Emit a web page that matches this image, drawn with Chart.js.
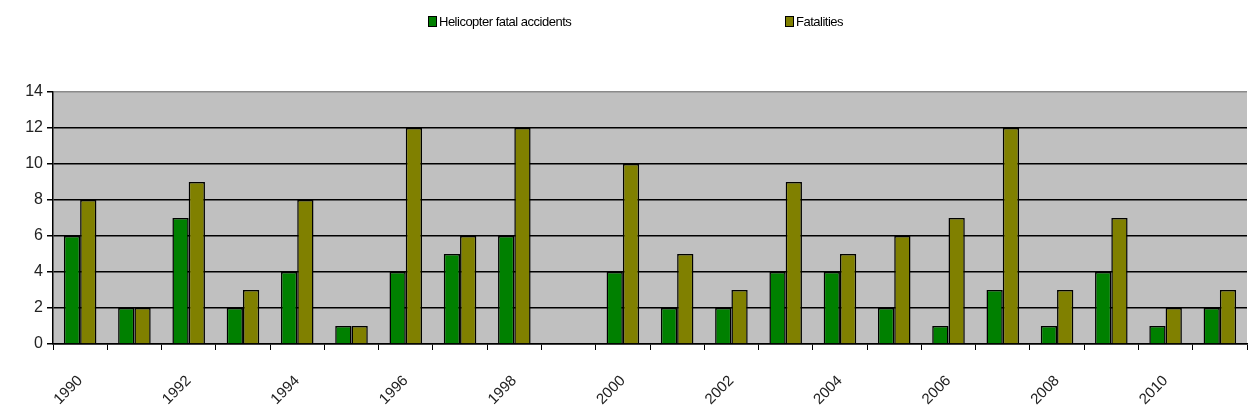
<!DOCTYPE html>
<html>
<head>
<meta charset="utf-8">
<script src="https://cdn.jsdelivr.net/npm/chart.js@4"></script>
<style>
  html, body { margin: 0; padding: 0; background: #fff; }
  #wrap { position: relative; width: 1250px; height: 419px; }
  #legend { position: absolute; top: 14px; left: 0; width: 1250px; font: 13px "Liberation Sans", Arial, sans-serif; color: #000; }
  .lg { position: absolute; display: flex; align-items: center; letter-spacing: -0.5px; }
  .lg i { display: inline-block; width: 7px; height: 9px; border: 1px solid #000; margin-right: 2px; }
</style>
</head>
<body>
<div id="wrap">
  <div id="legend"></div>
  <canvas id="chart" width="1250" height="419"></canvas>
</div>
<script>
// years on the x axis
const years = ['1990','1991','1992','1993','1994','1995','1996','1997','1998','1999','2000',
               '2001','2002','2003','2004','2005','2006','2007','2008','2009','2010','2011'];
// series values
const accidents  = [6, 2, 7, 2, 4, 1, 4, 5, 6, 0, 4, 2, 2, 4, 4, 2, 1, 3, 1, 4, 1, 2];
const fatalities = [8, 2, 9, 3, 8, 1, 12, 6, 12, 0, 10, 5, 3, 9, 5, 6, 7, 12, 3, 7, 2, 3];
const yTicks = [0, 2, 4, 6, 8, 10, 12, 14];

const seriesNames = ['Helicopter fatal accidents', 'Fatalities'];
const seriesColors = ['#008000', '#808000'];
const legendX = [428, 785];

// simple html legend (the original has the two items far apart)
const legend = document.getElementById('legend');
seriesNames.forEach((name, i) => {
  const el = document.createElement('div');
  el.className = 'lg';
  el.style.left = legendX[i] + 'px';
  el.innerHTML = `<i style="background:${seriesColors[i]}"></i>${name}`;
  legend.appendChild(el);
});

const plotBg = {
  id: 'plotBg',
  beforeDraw(chart) {
    const { ctx, chartArea: a } = chart;
    ctx.save();
    ctx.fillStyle = '#c0c0c0';
    ctx.fillRect(a.left, a.top, a.right - a.left, a.bottom - a.top);
    ctx.restore();
  }
};

const font = { family: '"Liberation Sans", Arial, sans-serif' };

new Chart(document.getElementById('chart'), {
  type: 'bar',
  data: {
    labels: years,
    datasets: [
      { label: seriesNames[0], data: accidents, backgroundColor: seriesColors[0], borderColor: '#000', borderWidth: 1.5 },
      { label: seriesNames[1], data: fatalities, backgroundColor: seriesColors[1], borderColor: '#000', borderWidth: 1.5 },
    ]
  },
  options: {
    responsive: false,
    animation: false,
    categoryPercentage: 0.6,
    barPercentage: 1.0,
    layout: { padding: { top: 92, right: 3, left: 0, bottom: 0 } },
    plugins: { legend: { display: false }, tooltip: { enabled: false } },
    scales: {
      x: {
        offset: true,
        grid: { offset: true, drawOnChartArea: false, color: '#000', tickLength: 6 },
        border: { color: '#000', width: 1.5 },
        ticks: {
          autoSkip: false,
          minRotation: 45, maxRotation: 45,
          color: '#222',
          font: { ...font, size: 15 },
          padding: 22,
          callback: (v, i) => (i % 2 === 0 ? years[i] : '')
        },
        afterFit: s => { s.height = 75; s.paddingRight = 0; s.paddingLeft = 0; }
      },
      y: {
        min: 0, max: 14,
        afterBuildTicks: s => { s.ticks = yTicks.map(v => ({ value: v })); },
        grid: {
          color: c => (c.tick && c.tick.value === 14 ? '#8a8a8a' : '#000'),
          lineWidth: 1.5,
          tickLength: 6,
          tickColor: '#000'
        },
        border: { color: '#000', width: 1.5 },
        ticks: { color: '#222', font: { ...font, size: 16 }, padding: 4 },
        afterFit: s => { s.width = 53; }
      }
    }
  },
  plugins: [plotBg]
});
</script>
</body>
</html>
